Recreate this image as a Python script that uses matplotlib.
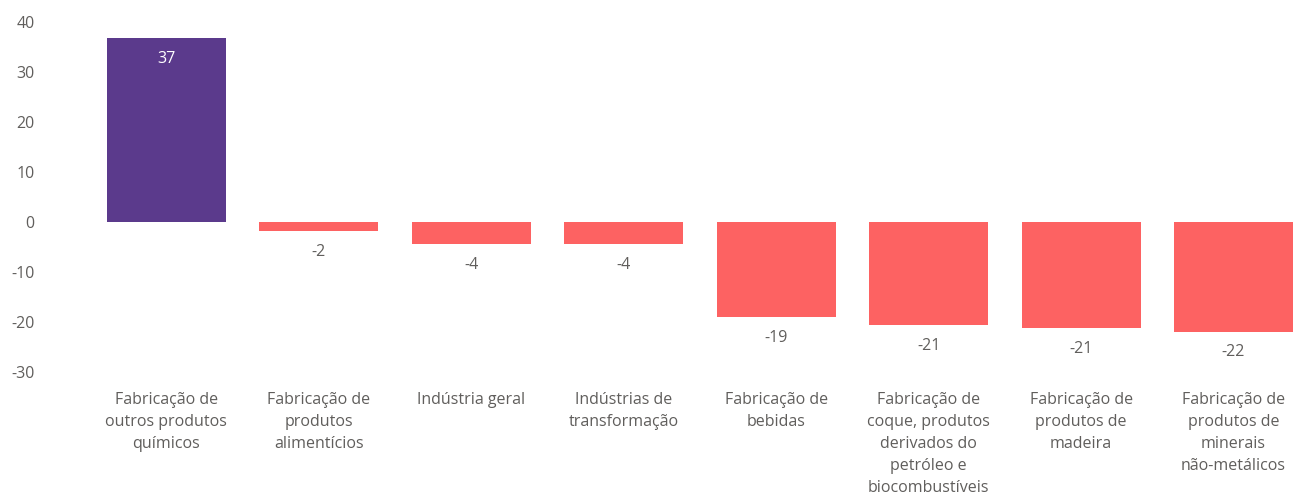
import matplotlib
matplotlib.use("Agg")
import matplotlib.pyplot as plt
import numpy as np

categories = [
    "Fabricação de\noutros produtos\nquímicos",
    "Fabricação de\nprodutos\nalimentícios",
    "Indústria geral",
    "Indústrias de\ntransformação",
    "Fabricação de\nbebidas",
    "Fabricação de\ncoque, produtos\nderivados do\npetróleo e\nbiocombustíveis",
    "Fabricação de\nprodutos de\nmadeira",
    "Fabricação de\nprodutos de\nminerais\nnão-metálicos",
]
values = [36.8, -1.8, -4.4, -4.4, -19.0, -20.6, -21.2, -21.9]
yticks = [40, 30, 20, 10, 0, -10, -20, -30]

plt.rcParams["font.family"] = ["Open Sans", "DejaVu Sans"]
purple, red, grey = "#5B3A8C", "#FD6262", "#605E5C"

W, H = 1293, 497
fig = plt.figure(figsize=(W / 100, H / 100), dpi=100)
ax = fig.add_axes([90 / W, (H - 382) / H, (W - 90) / W, 370 / H])

x = np.arange(len(values))
colors = [purple if v >= 0 else red for v in values]
ax.bar(x, values, width=0.78, color=colors)

for xi, v in zip(x, values):
    c = "white" if v >= 0 else grey
    ax.annotate(f"{v:.0f}", (xi, v), xytext=(0, -15), textcoords="offset points",
                ha="center", va="center", color=c, fontsize=11.5)

ax.set_xlim(-0.5, 7.39)
ax.set_ylim(-32, 42)
ax.set_yticks(yticks)
ax.set_yticklabels([str(t) for t in yticks])
ax.set_xticks(x)
ax.set_xticklabels(categories, linespacing=1.5)
ax.tick_params(axis="y", length=0, pad=40, labelsize=11.5, labelcolor=grey)
ax.tick_params(axis="x", length=0, pad=7, labelsize=11.5, labelcolor=grey)
for s in ax.spines.values():
    s.set_visible(False)

fig.savefig("out.png", dpi=100)
